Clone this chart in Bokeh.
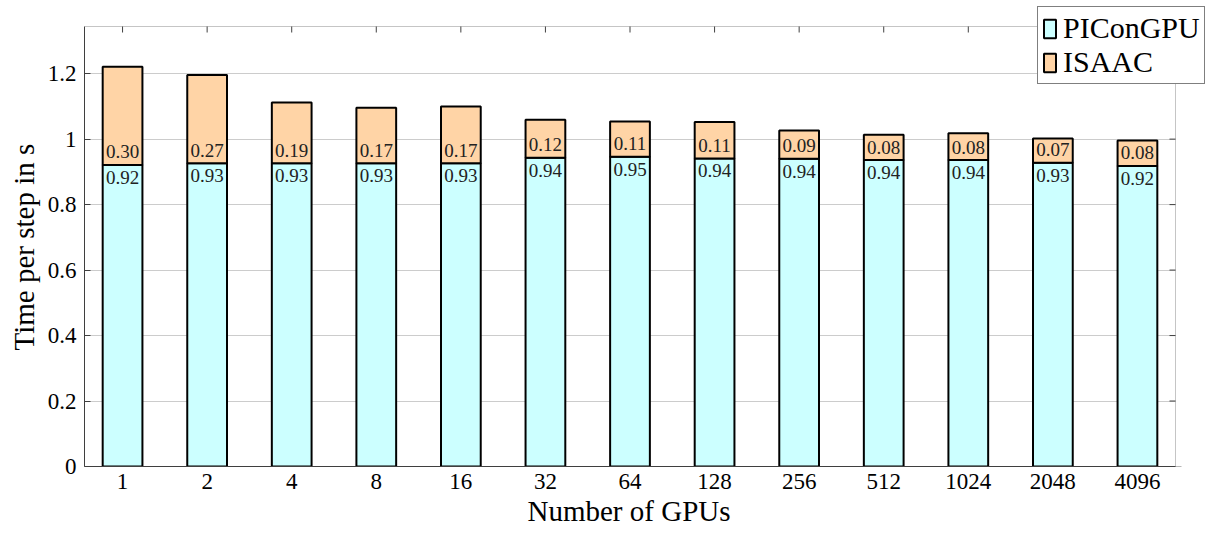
import math
from bokeh.plotting import figure
from bokeh.models import (ColumnDataSource, Range1d, FixedTicker, NumeralTickFormatter,
                          Legend, LegendItem, BoxAnnotation, Title)
from bokeh.core.properties import value
from bokeh.embed import file_html
from bokeh.resources import INLINE

gpus = ["1", "2", "4", "8", "16", "32", "64", "128", "256", "512", "1024", "2048", "4096"]
piconpu = [0.921, 0.926, 0.926, 0.926, 0.926, 0.943, 0.946, 0.941, 0.940, 0.936, 0.936, 0.928, 0.918]
isaac = [0.300, 0.270, 0.186, 0.170, 0.174, 0.116, 0.108, 0.111, 0.086, 0.077, 0.082, 0.074, 0.078]
y_ticks = [0, 0.2, 0.4, 0.6, 0.8, 1.0, 1.2]

FONT = "Liberation Serif"
CYAN = "#ccffff"
ORANGE = "#ffd4a6"
AXC = "#404040"

# visible axis box (data units)
XMIN, XMAX = -0.45, 12.45
YMIN, YMAX = 0.0, 1.344
# frame extends to the canvas edge on the right and top so the legend can overhang
FRAME_W, BOX_W = 1147, 1091
FRAME_H, BOX_H = 466, 440
X_END = XMIN + (XMAX - XMIN) * FRAME_W / BOX_W
Y_END = YMAX * FRAME_H / BOX_H

xs = list(range(len(gpus)))
src = ColumnDataSource(dict(
    x=xs,
    pic=piconpu,
    isaac=isaac,
    pic_lbl=[f"{v:.2f}" for v in piconpu],
    isaac_lbl=[f"{v:.2f}" for v in isaac],
))

p = figure(width=1231, height=533, output_backend="svg", toolbar_location=None,
           x_range=Range1d(XMIN, X_END), y_range=Range1d(YMIN, Y_END),
           min_border_left=84, min_border_right=0, min_border_top=0, min_border_bottom=67)
p.title = None
p.outline_line_color = None
p.background_fill_color = "white"
p.border_fill_color = "white"

r = p.vbar_stack(["pic", "isaac"], x="x", width=0.47, source=src,
                 fill_color=[CYAN, ORANGE], line_color="black", line_width=2)

p.text(x="x", y="pic", text="pic_lbl", source=src, text_align="center",
       text_baseline="top", y_offset=6, text_font=value(FONT), text_font_size="19px",
       text_color="#222222")
p.text(x="x", y="pic", text="isaac_lbl", source=src, text_align="center",
       text_baseline="alphabetic", y_offset=-13, text_font=value(FONT), text_font_size="19px",
       text_color="#222222")

# inward ticks on the top and right edges of the axis box
p.scatter(x=xs, y=[YMAX] * len(xs), marker="dash", angle=math.pi / 2, size=12,
          line_color=AXC, line_width=1)
p.scatter(x=[XMAX] * len(y_ticks), y=y_ticks, marker="dash", size=12,
          line_color=AXC, line_width=1)

# main axes
xa = p.xaxis[0]
xa.ticker = FixedTicker(ticks=xs)
xa.bounds = (XMIN, XMAX)
xa.major_label_overrides = {i: g for i, g in enumerate(gpus)}
xa.major_tick_in = 0
xa.major_tick_out = 0
xa.minor_tick_line_color = None
xa.major_label_standoff = 7

ya = p.yaxis[0]
ya.ticker = FixedTicker(ticks=y_ticks)
ya.bounds = (YMIN, YMAX)
ya.formatter = NumeralTickFormatter(format="0.[0]")
ya.major_tick_in = 6
ya.major_tick_out = 0
ya.minor_tick_line_color = None
ya.major_label_standoff = 8

for ax in (xa, ya):
    ax.axis_line_color = AXC
    ax.major_tick_line_color = AXC
    ax.major_label_text_font = FONT
    ax.major_label_text_font_size = "23px"
    ax.major_label_text_color = "black"

# axis titles placed to be centred on the visible axis box
xt = Title(text="Number of GPUs", align="left", offset=443, standoff=7,
           vertical_align="top",
           text_font=FONT, text_font_size="29px", text_font_style="normal",
           text_color="black")
yt = Title(text="Time per step in s", align="left", offset=116, standoff=6,
           vertical_align="top",
           text_font=FONT, text_font_size="29px", text_font_style="normal",
           text_color="black")
p.add_layout(xt, "below")
p.add_layout(yt, "left")

p.xgrid.grid_line_color = None
p.ygrid.ticker = FixedTicker(ticks=y_ticks)
p.ygrid.grid_line_color = "#cccccc"
p.ygrid.grid_line_width = 1

# white masks outside the axis box, then the box outline
p.add_layout(BoxAnnotation(left=XMAX, fill_color="white", fill_alpha=1, line_color=None))
p.add_layout(BoxAnnotation(bottom=YMAX, fill_color="white", fill_alpha=1, line_color=None))
p.add_layout(BoxAnnotation(left=XMIN, right=XMAX, bottom=YMIN, top=YMAX, fill_alpha=0,
                           line_color=AXC, line_width=1))

legend = Legend(items=[LegendItem(label="PIConGPU", renderers=[r[0]]),
                       LegendItem(label="ISAAC", renderers=[r[1]])],
                location=(953, 382))
legend.label_text_font = FONT
legend.label_text_font_size = "30px"
legend.label_text_color = "black"
legend.glyph_width = 15
legend.glyph_height = 23
legend.label_height = 23
legend.label_standoff = 6
legend.padding = 4
legend.spacing = 0
legend.margin = 0
legend.border_line_color = "black"
legend.border_line_width = 1
legend.background_fill_alpha = 1
p.add_layout(legend, "center")

open("out.html", "w").write(file_html(p, INLINE))
